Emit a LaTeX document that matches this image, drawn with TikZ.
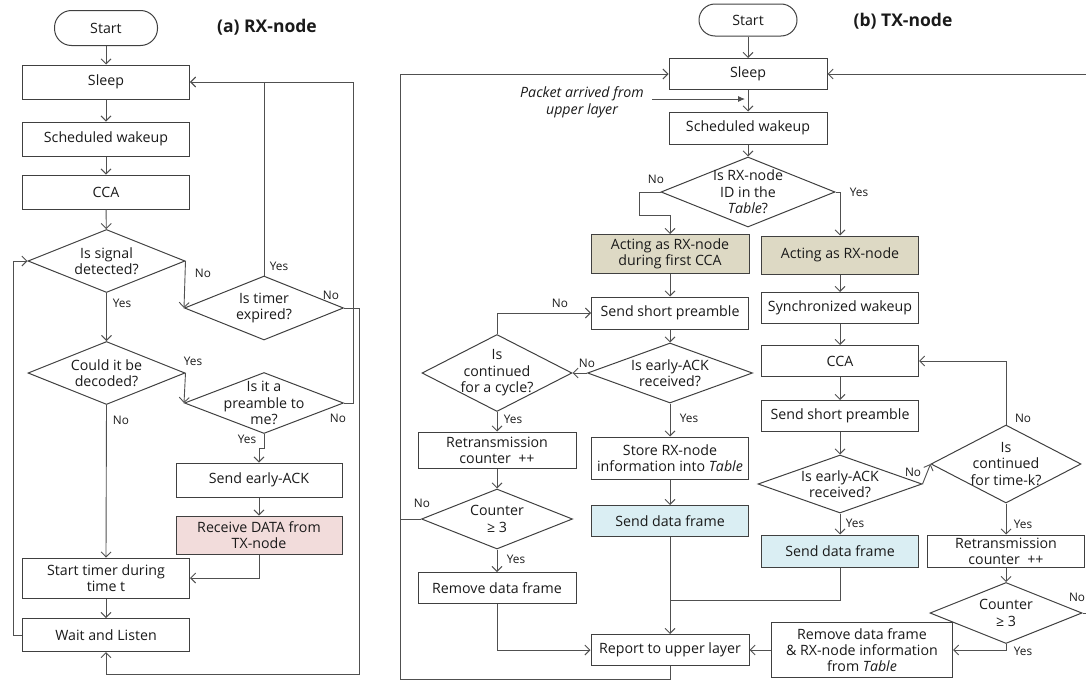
\documentclass[tikz,border=0pt]{standalone}
\usepackage{fontspec}
\setmainfont{Open Sans}
\usetikzlibrary{shapes.geometric,arrows.meta,calc}
\definecolor{ln}{HTML}{505050}
\definecolor{bd}{HTML}{404040}
\definecolor{tx}{HTML}{1A1A1A}
\definecolor{pinkf}{HTML}{F2DCDB}
\definecolor{beigef}{HTML}{DDD9C4}
\definecolor{bluef}{HTML}{DAEEF3}
\tikzset{
  every node/.style={text=tx},
  box/.style={draw=bd, line width=1pt, rectangle, inner sep=1pt, align=center,
    font=\fontsize{14.2}{16}\selectfont},
  dia/.style={draw=bd, line width=1pt, diamond, inner sep=0pt},
  dtext/.style={align=center, font=\fontsize{14.2}{16.5}\selectfont, inner sep=0pt},
  arr/.style={draw=ln, line width=0.9pt, -{Straight Barb[length=5pt,width=10pt]}},
  lnk/.style={draw=ln, line width=0.9pt},
  yn/.style={font=\fontsize{11.8}{13}\selectfont, inner sep=0pt},
  ttl/.style={font=\fontsize{17.5}{20}\selectfont\bfseries, inner sep=0pt},
}
\begin{document}
\begin{tikzpicture}[x=1pt,y=-1pt]
\useasboundingbox (0,0) rectangle (1086,680);
% ---------------- RX node ----------------
\node[box, rounded corners=17pt, minimum width=103pt, minimum height=35pt] (rs) at (106,28) {Start};
\node[ttl] (ta) at (267,27) {(a) RX-node};
\node[box, minimum width=167pt, minimum height=34pt] (rsl) at (106,82) {Sleep};
\node[box, minimum width=167pt, minimum height=34pt] (rsw) at (106,139) {Scheduled wakeup};
\node[box, minimum width=167pt, minimum height=34pt] (rcca) at (106,192) {CCA};
\node[dia, minimum width=157pt, minimum height=63pt, label={[dtext]center:Is signal\\detected?}] (d1) at (106.5,261) {};
\node[dia, minimum width=159pt, minimum height=64pt, label={[dtext]center:Is timer\\expired?}] (d2) at (264,308) {};
\node[dia, minimum width=157pt, minimum height=63pt, label={[dtext]center:Could it be\\decoded?}] (d3) at (106.5,373) {};
\node[dia, minimum width=159pt, minimum height=61pt, label={[dtext]center:Is it a\\preamble to\\me?}] (d4) at (264,403) {};
\node[box, minimum width=166pt, minimum height=34pt] (ack) at (259,480) {Send early-ACK};
\node[box, fill=pinkf, minimum width=166pt, minimum height=38pt] (recv) at (259,535) {Receive DATA from\\TX-node};
\node[box, minimum width=167pt, minimum height=40pt] (tmr) at (106,578) {Start timer during\\time t};
\node[box, minimum width=167pt, minimum height=33pt] (wait) at (106,635) {Wait and Listen};
\coordinate (rxr) at (359,674);

\draw[arr] (rs) -- (rsl);
\draw[arr] (rsl) -- (rsw);
\draw[arr] (rsw) -- (rcca);
\draw[arr] (rcca) -- (d1);
\draw[arr] (d1.south) -- (d3.north);
\draw[arr] (d1.east) -- (d2.west);
\draw[arr] (d2.north) |- (rsl.east);
\draw[arr] (d4.east) -- ++(9,0) |- (rsl.east);
\draw[arr] (d2.east) -| (rxr) -| (wait.south);
\draw[arr] (d3.east) -- (d4.west);
\draw[arr] (d3.south) -- (tmr.north);
\draw[arr] (d4.south) -- ++(0,14) -| (ack.north);
\draw[arr] (ack) -- (recv);
\draw[arr] (recv.south) |- (tmr.east);
\draw[arr] (tmr) -- (wait);
\draw[arr] (wait.west) -- ++(-9,0) |- (d1.west);

\node[yn] at (122,303) {Yes};
\node[yn] at (203,273) {No};
\node[yn] at (279,266) {Yes};
\node[yn] at (331,295) {No};
\node[yn] at (193,361) {Yes};
\node[yn] at (121,420) {No};
\node[yn] at (338,418) {No};
\node[yn] at (247,439) {Yes};

% ---------------- TX node ----------------
\node[box, rounded corners=16pt, minimum width=98pt, minimum height=32pt] (ts) at (748,20) {Start};
\node[ttl] (tb) at (903,21) {(b) TX-node};
\node[box, minimum width=158pt, minimum height=31pt] (tsl) at (748,74) {Sleep};
\node[box, minimum width=158pt, minimum height=32pt] (tsw) at (748,128) {Scheduled wakeup};
\node[align=center, font=\fontsize{14.2}{17}\selectfont\itshape, inner sep=0pt] (pkt) at (582,102) {Packet arrived from\\upper layer};
\coordinate (pa1) at (652,99);
\coordinate (pa2) at (745,99);
\node[dia, minimum width=174pt, minimum height=70pt, label={[dtext]center:Is RX-node\\ID in the\\\textit{Table}?}] (dT) at (748,192) {};
\node[box, fill=beigef, minimum width=158pt, minimum height=39pt] (act1) at (670,254) {Acting as RX-node\\during first CCA};
\node[box, fill=beigef, minimum width=157pt, minimum height=38pt] (act2) at (840,255) {Acting as RX-node};
\node[box, minimum width=157pt, minimum height=32pt] (sp1) at (670,313) {Send short preamble};
\node[dia, minimum width=165pt, minimum height=60pt, label={[dtext]center:Is early-ACK\\received?}] (dE1) at (670,373) {};
\node[dia, minimum width=150pt, minimum height=77pt, label={[dtext]center:Is\\continued\\for a cycle?}] (dC1) at (497,373) {};
\node[box, minimum width=158pt, minimum height=36pt] (rt1) at (497,450) {Retransmission\\counter\ \ ++};
\node[box, minimum width=157pt, minimum height=42pt] (st1) at (670,458) {Store RX-node\\information into \textit{Table}};
\node[dia, minimum width=151pt, minimum height=60pt, label={[dtext]center:Counter\\≥\ 3}] (cn1) at (497,519) {};
\node[box, fill=bluef, minimum width=157pt, minimum height=31pt] (sd1) at (670,521) {Send data frame};
\node[box, minimum width=158pt, minimum height=31pt] (rm1) at (497,588) {Remove data frame};
\node[box, minimum width=158pt, minimum height=31pt] (rp) at (670,650) {Report to upper layer};

\node[box, minimum width=157pt, minimum height=31pt] (sw) at (840,308) {Synchronized wakeup};
\node[box, minimum width=157pt, minimum height=31pt] (cca2) at (840,361) {CCA};
\node[box, minimum width=157pt, minimum height=31pt] (sp2) at (840,416) {Send short preamble};
\node[dia, minimum width=164pt, minimum height=58pt, label={[dtext]center:Is early-ACK\\received?}] (dE2) at (840,484) {};
\node[dia, minimum width=150pt, minimum height=78pt, label={[dtext]center:Is\\continued\\for time-k?}] (dK) at (1006,464) {};
\node[box, minimum width=157pt, minimum height=32pt] (rt2) at (1006,551) {Retransmission\\counter\ \ ++};
\node[box, fill=bluef, minimum width=157pt, minimum height=32pt] (sd2) at (840,551) {Send data frame};
\node[dia, minimum width=152pt, minimum height=61pt, label={[dtext]center:Counter\\≥\ 3}] (cn2) at (1006,613) {};
\node[box, minimum width=181pt, minimum height=55pt] (rm2) at (862,650) {Remove data frame\\\& RX-node information\\from \textit{Table}};

\coordinate (lb) at (400,679);
\coordinate (j1) at (670,600);
\coordinate (rb) at (1089,613);

\draw[arr] (ts) -- (tsl);
\draw[arr] (tsl) -- (tsw);
\draw[draw=ln, line width=0.9pt, -{Latex[length=7pt,width=6pt]}] (pa1) -- (pa2);
\draw[arr] (tsw) -- (dT);
\draw[arr] (dT.west) -| ++(-21,23) -| (act1.north);
\draw[arr] (dT.east) -| (act2.north);
\draw[arr] (act1) -- (sp1);
\draw[arr] (sp1) -- (dE1);
\draw[arr] (dE1.west) -- (dC1.east);
\draw[arr] (dC1.north) |- (sp1.west);
\draw[arr] (dC1.south) -- (rt1.north);
\draw[arr] (rt1) -- (cn1);
\draw[arr] (cn1.south) -- (rm1.north);
\draw[arr] (rm1.south) |- (rp.west);
\draw[arr] (dE1.south) -- (st1.north);
\draw[arr] (st1) -- (sd1);
\draw[arr] (sd1.south) -- (rp.north);
\draw[lnk] (sd2.south) |- (j1);
\draw[arr] (rp.south) |- (lb) |- (tsl.west);
\draw[lnk] (cn1.west) -- (cn1.west -| lb);

\draw[arr] (act2) -- (sw);
\draw[arr] (sw) -- (cca2);
\draw[arr] (cca2) -- (sp2);
\draw[arr] (sp2) -- (dE2);
\draw[arr] (dE2.south) -- (sd2.north);
\draw[arr] (dE2.east) -- (dK.west);
\draw[arr] (dK.north) |- (cca2.east);
\draw[arr] (dK.south) -- (rt2.north);
\draw[arr] (rt2) -- (cn2);
\draw[arr] (cn2.south) |- (rm2.east);
\draw[arr] (rm2.west) -- (rp.east);
\draw[arr] (cn2.east) -- (rb) |- (tsl.east);

\node[yn] at (656,179) {No};
\node[yn] at (859,192) {Yes};
\node[yn] at (560,303) {No};
\node[yn] at (587,363) {No};
\node[yn] at (513,419) {Yes};
\node[yn] at (689,418) {Yes};
\node[yn] at (422,503) {No};
\node[yn] at (516,559) {Yes};
\node[yn] at (913,472) {No};
\node[yn] at (1023,418) {No};
\node[yn] at (855,523) {Yes};
\node[yn] at (1023,524) {Yes};
\node[yn] at (1077,597) {No};
\node[yn] at (1023,651) {Yes};
\end{tikzpicture}
\end{document}
